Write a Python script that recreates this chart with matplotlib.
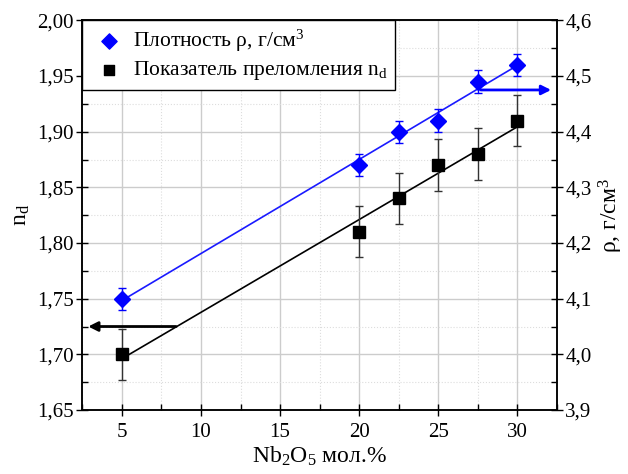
import matplotlib
matplotlib.use("Agg")
import matplotlib.pyplot as plt
from matplotlib.ticker import MultipleLocator, FuncFormatter
import numpy as np

plt.rcParams['font.family'] = ['Liberation Serif', 'DejaVu Serif']
plt.rcParams['mathtext.fontset'] = 'custom'
plt.rcParams['mathtext.rm'] = 'Liberation Serif'
plt.rcParams['mathtext.it'] = 'Liberation Serif:italic'

# data
nb2o5 = [5, 20, 22.5, 25, 27.5, 30]
n_d = [1.70, 1.81, 1.84, 1.87, 1.88, 1.91]
n_d_err = [0.023, 0.023, 0.023, 0.023, 0.023, 0.023]
density = [4.10, 4.34, 4.40, 4.42, 4.49, 4.52]
density_err = [0.02, 0.02, 0.02, 0.02, 0.02, 0.02]


def comma(fmt):
    return FuncFormatter(lambda v, p: (fmt % v).replace('.', ','))


fig = plt.figure(figsize=(6.28, 4.74), dpi=100)
ax = fig.add_axes([0.131, 0.135, 0.756, 0.822])
ax2 = ax.twinx()

ax.set_xlim(2.5, 32.5)
ax.set_ylim(1.65, 2.00)
ax2.set_ylim(3.9, 4.6)

# grid
ax.xaxis.set_major_locator(MultipleLocator(5))
ax.xaxis.set_minor_locator(MultipleLocator(2.5))
ax.yaxis.set_major_locator(MultipleLocator(0.05))
ax.yaxis.set_minor_locator(MultipleLocator(0.025))
ax2.yaxis.set_major_locator(MultipleLocator(0.1))
ax2.yaxis.set_minor_locator(MultipleLocator(0.05))
ax.grid(which='major', color='#cccccc', lw=1.0)
ax.grid(which='minor', color='#dddddd', lw=0.8, ls=':')
ax.set_axisbelow(True)

ax.yaxis.set_major_formatter(comma('%.2f'))
ax2.yaxis.set_major_formatter(comma('%.1f'))

for a in (ax, ax2):
    a.tick_params(which='major', direction='inout', length=8, width=1, labelsize=15, pad=2)
    a.tick_params(which='minor', direction='in', length=4, width=1)
    for s in a.spines.values():
        s.set_linewidth(1.1)
ax.tick_params(axis='x', which='both', top=False, pad=5)

# fits
xx = np.array([nb2o5[0], nb2o5[-1]])
k1, b1 = np.polyfit(nb2o5, n_d, 1)
ax.plot(xx, k1 * xx + b1, color='black', lw=1.2, zorder=3)
k2, b2 = np.polyfit(nb2o5, density, 1)
ax2.plot(xx, k2 * xx + b2, color='#1a1aff', lw=1.2, zorder=3)

# points
ax.errorbar(nb2o5, n_d, yerr=n_d_err, fmt='s', color='black', ms=8,
            ecolor='#333333', elinewidth=1, capsize=3, zorder=4)
ax2.errorbar(nb2o5, density, yerr=density_err, fmt='D', color='#0000ff', ms=8,
             ecolor='#0000ff', elinewidth=1, capsize=3, zorder=4)

# arrows to axes
ax.annotate('', xy=(2.7, 1.725), xytext=(8.6, 1.725),
            arrowprops=dict(arrowstyle='-|>', color='black', lw=2, mutation_scale=14))
ax2.annotate('', xy=(32.3, 4.475), xytext=(27.5, 4.475),
             arrowprops=dict(arrowstyle='-|>', color='#0000ff', lw=2, mutation_scale=14))

ax.set_xlabel('Nb$_2$O$_5$ мол.%', fontsize=17, labelpad=2)
ax.set_ylabel('n$_\\mathrm{d}$', fontsize=17, labelpad=4)
ax2.set_ylabel('ρ, г/см$^3$', fontsize=17, labelpad=4)

h1 = ax2.scatter([], [], marker='D', color='#0000ff', s=60)
h2 = ax.scatter([], [], marker='s', color='black', s=60)
leg = ax.legend([h1, h2], ['Плотность ρ, г/см$^3$', 'Показатель преломления n$_\\mathrm{d}$'],
                loc='upper left', fontsize=15.5, frameon=True, fancybox=False,
                edgecolor='black', framealpha=1, borderaxespad=0,
                handletextpad=0.2, handlelength=1.8, borderpad=0.35, labelspacing=0.25)
leg.get_frame().set_linewidth(1.0)
leg.set_zorder(10)

fig.savefig('out.png', dpi=100)
